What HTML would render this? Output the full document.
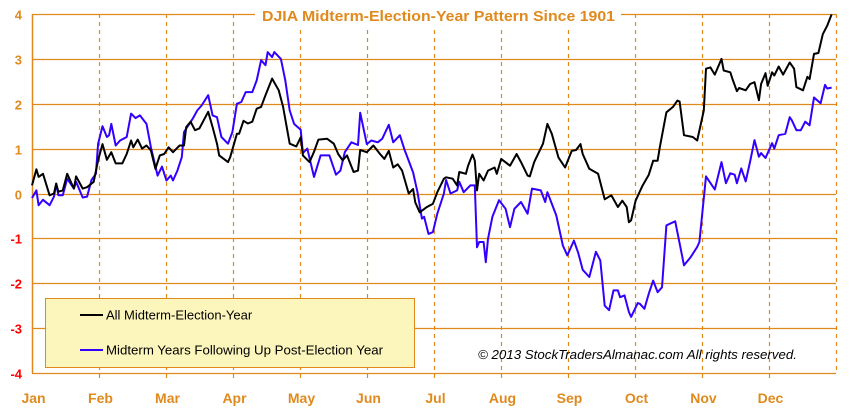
<!DOCTYPE html>
<html><head><meta charset="utf-8"><style>
body{margin:0;background:#fff;width:863px;height:418px;overflow:hidden}
svg{display:block;font-family:"Liberation Sans",sans-serif}
</style></head><body>
<svg id="chart" width="863" height="418" viewBox="0 0 863 418">
<g id="grid"></g>
<g id="series"></g>
<g id="labels"></g>
<rect x="255" y="4" width="366" height="22" fill="#fff"/>
<text x="262" y="21" textLength="353" lengthAdjust="spacingAndGlyphs" font-size="15" font-weight="bold" fill="#e08a1e">DJIA Midterm-Election-Year Pattern Since 1901</text>
<g>
<rect x="45.5" y="298.5" width="369" height="69" fill="#fdf6bc" stroke="#e08a1e" stroke-width="1"/>
<line x1="80" y1="315" x2="103" y2="315" stroke="#000" stroke-width="2"/>
<text x="106" y="319.5" font-size="13" fill="#000">All Midterm-Election-Year</text>
<line x1="80" y1="350" x2="103" y2="350" stroke="#3300ff" stroke-width="2"/>
<text x="106" y="354.5" textLength="277" lengthAdjust="spacingAndGlyphs" font-size="13" fill="#000">Midterm Years Following Up Post-Election Year</text>
</g>
<text x="478" y="359" textLength="319" lengthAdjust="spacingAndGlyphs" font-size="13" font-style="italic" fill="#000">© 2013 StockTradersAlmanac.com All rights reserved.</text>
</svg>
<script>
const months=["Jan","Feb","Mar","Apr","May","Jun","Jul","Aug","Sep","Oct","Nov","Dec"];
const yTicks=[4,3,2,1,0,-1,-2,-3,-4];
const allDays=[0,2,3,5,8,10,11,12,14,16,19,20,23,25,28,30,32,34,36,38,41,43,45,46,48,50,52,54,56,58,60,62,64,67,69,70,72,74,76,80,82,84,85,89,90,93,94,96,98,100,102,104,106,109,112,114,117,120,122,123,126,128,130,134,137,139,141,143,146,148,149,152,155,158,160,162,164,166,168,171,173,174,176,179,182,184,187,188,191,193,194,197,198,200,201,202,203,205,207,210,211,213,217,220,222,225,226,228,232,234,236,239,242,245,247,249,250,253,257,260,263,266,268,270,271,272,274,277,280,282,284,285,288,291,293,294,296,300,302,305,306,308,310,313,314,317,318,320,321,324,326,328,330,331,333,334,336,337,339,341,344,346,347,350,352,353,355,357,359,361,363];
const allValues=[.18,.54,.37,.44,-.04,0,.22,.04,.07,.44,.11,.38,.11,.14,.26,.74,1.1,.75,.92,.67,.67,.88,1.18,1.03,1.2,1.0,1.07,.96,.55,.85,.88,1.03,.92,1.07,1.07,1.48,1.6,1.41,1.45,1.82,1.48,1.11,.85,.7,.81,1.33,1.33,1.62,1.56,1.6,1.89,1.93,2.19,2.56,2.3,1.93,1.11,1.05,1.25,.85,.7,.93,1.2,1.22,1.11,.88,.74,.85,.48,.51,.97,.92,1.07,.88,.77,.95,.58,.65,.51,0,.1,-.2,-.42,-.31,-.23,.03,.33,.36,.33,.18,.48,.44,.62,.87,.73,.07,.44,.29,.51,.58,.44,.77,.62,.88,.7,.4,.38,.7,1.11,1.55,1.33,.8,.58,.95,.97,1.1,.88,.55,.44,-.13,-.04,-.3,-.16,-.3,-.64,-.6,-.16,.16,.42,.73,.73,1.03,1.81,1.93,2.07,2.05,1.3,1.26,1.18,1.85,2.78,2.81,2.65,3.0,2.74,2.7,2.55,2.28,2.35,2.3,2.44,2.48,2.08,2.44,2.68,2.4,2.7,2.63,2.83,2.65,2.92,2.78,2.37,2.3,2.6,2.55,3.11,3.13,3.55,3.74,3.99];
const followDays=[0,2,3,5,8,10,11,12,14,16,19,20,23,25,27,29,30,32,34,35,36,38,40,43,45,47,49,52,54,57,59,61,63,64,66,68,69,73,75,77,80,82,84,86,89,91,93,95,97,100,102,104,106,107,109,110,113,115,117,119,122,123,125,128,131,135,138,140,142,145,148,149,152,154,157,159,162,164,167,169,173,175,177,178,180,182,184,187,188,190,193,194,196,199,201,202,203,205,206,207,209,212,215,217,219,222,225,227,231,233,234,238,241,243,246,248,250,253,256,258,260,262,264,266,267,269,271,272,275,276,278,280,282,284,286,288,292,296,299,302,303,306,310,313,315,317,319,320,322,324,326,328,330,331,333,336,337,339,342,344,345,347,349,351,353,355,358,360,361,363];
const followValues=[-.1,.07,-.26,-.14,-.26,-.07,.22,-.04,-.04,.33,.11,.26,-.09,-.07,.3,.44,1.11,1.5,1.26,1.3,1.55,1.07,1.18,1.26,1.78,1.68,1.74,1.55,1.03,.4,.6,.29,.4,.29,.51,.81,1.37,1.67,1.85,1.96,2.19,1.74,1.7,1.26,1.11,1.37,2.0,2.04,2.26,2.26,2.52,2.97,2.86,3.15,3.04,3.15,3.0,2.52,1.85,1.55,1.42,.9,1.0,.37,.85,.85,.42,.51,.92,1.14,1.08,1.8,1.1,1.18,1.14,1.22,1.53,1.14,1.3,.99,.47,.03,-.56,-.52,-.9,-.86,-.45,0,.3,0,.07,.26,.03,.18,.18,-1.2,-1.08,-1.08,-1.53,-1.01,-.52,-.15,-.34,-.75,-.34,-.19,-.45,.11,.07,-.19,.03,-.49,-1.16,-1.38,-1.05,-1.33,-1.7,-1.86,-1.3,-1.49,-2.5,-2.6,-2.16,-2.16,-2.31,-2.27,-2.64,-2.75,-2.44,-2.46,-2.57,-2.23,-1.94,-2.2,-2.09,-.71,-.62,-1.6,-1.42,-1.19,-1.08,.38,.09,.7,.23,.45,.42,.23,.56,.27,.71,1.19,.82,.9,.79,1.12,1.0,1.3,1.33,1.7,1.63,1.41,1.41,1.6,1.52,2.14,2.01,2.42,2.34,2.36];

const L=32,R=836,T=14,B=373;
const xScale=d=>L+d/365*(R-L);
const yScale=v=>T+(4-v)/8*(B-T);
const NS="http://www.w3.org/2000/svg";
function mk(tag,parent,attrs){const e=document.createElementNS(NS,tag);for(const k in attrs)e.setAttribute(k,attrs[k]);parent.appendChild(e);return e;}
const grid=document.getElementById('grid'),labels=document.getElementById('labels'),series=document.getElementById('series');
const orange="#e08a1e";
yTicks.forEach(v=>{
  const y=Math.round(yScale(v))+0.5;
  const ln=mk('line',grid,{x1:L,x2:R,y1:y,y2:y,stroke:orange,'stroke-width':1.2});
  
  
  const t=mk('text',labels,{x:22,y:y+5,'text-anchor':'end','font-size':13,'font-weight':'bold',fill:v<0?'#ff0000':orange});
  t.textContent=String(v);
  
  
});
const ax=mk('line',grid,{x1:L+0.5,x2:L+0.5,y1:T,y2:B,stroke:orange,'stroke-width':1.5});


months.forEach((m,i)=>{
  const x=Math.round(L+i*(R-L)/12)+0.5;
  if(i>0){const d=mk('line',grid,{x1:x,x2:x,y1:T,y2:B+5,stroke:orange,'stroke-width':1.2,'stroke-dasharray':'4,4'});
    
    }
  const t=mk('text',labels,{x:x+1,y:403,'text-anchor':'middle','font-size':14,'font-weight':'bold',fill:orange});
  t.textContent=m;
  
  
});
const re=mk('line',grid,{x1:R+0.5,x2:R+0.5,y1:T,y2:B,stroke:orange,'stroke-width':1.2,'stroke-dasharray':'4,4'});


function path(days,vals,color,name){
  const d=days.map((x,i)=>(i?'L':'M')+xScale(x).toFixed(1)+','+yScale(vals[i]).toFixed(1)).join('');
  const p=mk('path',series,{d:d,fill:'none',stroke:color,'stroke-width':2,'stroke-linejoin':'round'});
  
  
}
path(followDays,followValues,'#3300ff','line-following-up-years');
path(allDays,allValues,'#000000','line-all-midterm-years');
</script>
</body></html>
